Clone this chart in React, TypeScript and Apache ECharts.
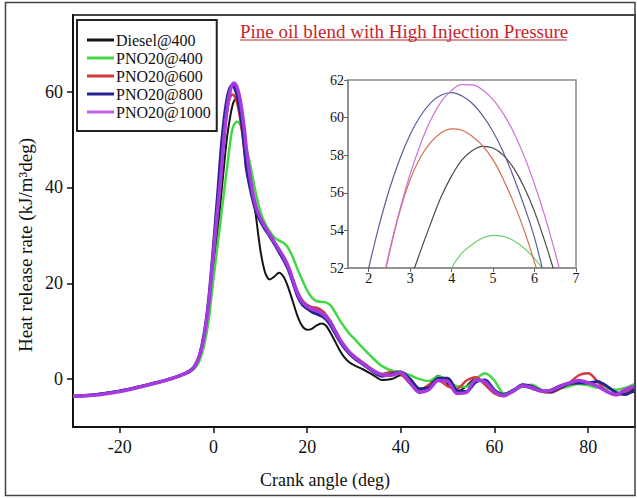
import React, { useEffect, useRef } from "react";
import * as echarts from "echarts";

const CRANK_ANGLE = [
  -30, -25, -20, -15, -10, -7, -5, -4, -3, -2, -1,
  0, 0.5, 1,
  1.5, 1.75, 2, 2.25, 2.5, 2.75, 3, 3.25, 3.5, 3.75, 4, 4.25, 4.5, 4.75, 5, 5.25, 5.5, 5.75, 6, 6.25, 6.5, 6.75, 7,
  8, 9, 10, 11, 12, 13, 14, 15, 16, 17, 18, 19, 20, 21, 22, 23, 24, 25, 26, 27, 28, 29, 30,
  32, 34, 36, 38, 40, 42, 44, 46, 48, 50, 52, 54, 56, 58, 60, 62, 64, 66, 68, 70, 72, 74, 76, 78, 80, 82, 84, 86, 88, 90,
];

const DIESEL_400 = [
  -3.6, -3.2, -2.5, -1.4, -0.2, 0.8, 1.6, 2.4, 4.3, 8, 14,
  23, 27.5, 32,
  37, 39.5, 42, 44.5, 47, 49.3, 51.3, 52.9, 54.4, 55.8, 56.9, 57.75, 58.25, 58.47, 58.38, 57.99, 57.3, 56.3, 55.0, 53.4, 51.6, 49.5, 47.3,
  41.5, 34.5, 27, 22.3, 20.8, 21.4, 22.2, 21.3, 19, 16, 13, 11, 10.3, 10.5, 11.2, 11.6, 11.2, 9.6, 7.8, 5.9, 4.5, 3.5, 2.9,
  2.0, 0.9, -0.2, 0.0, 0.8, -0.5, -2.2, -1.2, 0.7, -1.0,
  -2.6, -1.5, 0.2, -1.0, -2.8, -3.2, -2.2, -1.5, -2.0, -2.6,
  -2.2, -1.3, -0.8, -0.6, -1.0, -0.6, -1.5, -2.8, -3.0, -2.6,
];

const PNO20_400 = [
  -3.6, -3.2, -2.5, -1.4, -0.2, 0.7, 1.5, 2.2, 3.8, 7, 12.5,
  21, 25, 29,
  33, 35, 37, 39, 41, 43, 45, 47, 49, 50.7, 52, 52.8, 53.25, 53.6, 53.74, 53.68, 53.45, 53.05, 52.5, 51.8, 50.9, 49.8, 48.5,
  44, 39, 35, 32.5, 30.8, 29.6, 28.9, 28.4, 27.3, 25.3, 22.8, 20.6, 18.5, 17, 16.3, 16.1, 16, 15.4, 13.9, 12.2, 10.8, 9.5, 8.5,
  6.4, 4.4, 2.7, 1.8, 1.5, 0.8, 0.0, -0.4, 0.6, -0.3,
  -1.5, -1.6, 0.0, 1.2, -0.3, -3.0, -2.6, -1.5, -1.2, -2.2,
  -2.8, -2.0, -1.5, -1.0, -1.3, -1.8, -2.0, -2.2, -1.8, -1.0,
];

const PNO20_600 = [
  -3.6, -3.2, -2.5, -1.4, -0.2, 0.8, 1.7, 2.6, 4.8, 9, 16,
  26.5, 31.5, 36.5,
  41.5, 44.5, 47.5, 50.2, 52.8, 55.0, 56.7, 57.9, 58.7, 59.2, 59.4, 59.33, 59.0, 58.5, 57.75, 56.7, 55.45, 54.0, 52.3, 50.5, 48.5, 46.5, 44.5,
  39.5, 35.8, 33.3, 31.6, 30, 28.5, 27, 25.5, 23.5, 20.8, 18.2, 16.4, 15.5, 15, 14.9, 14.4, 13.5, 12, 10.2, 8.4, 7, 5.8, 4.9,
  3.4, 2.0, 1.1, 1.5, 1.0, -1.0, -2.4, -1.2, -0.3, -1.5,
  -2.0, -0.3, 0.4, -1.2, -3.0, -3.6, -2.5, -1.2, -1.5, -2.6,
  -2.8, -2.0, -0.8, 0.8, 1.2, -0.5, -2.6, -3.4, -2.5, -2.2,
];

const PNO20_800 = [
  -3.6, -3.2, -2.5, -1.4, -0.2, 0.8, 1.8, 2.8, 5, 9.5, 17,
  28, 34, 40,
  46.6, 49.5, 52.0, 54.25, 56.2, 57.8, 59.1, 60.1, 60.8, 61.2, 61.33, 61.15, 60.75, 60.1, 59.25, 58.15, 56.8, 55.3, 53.6, 51.4, 49.1, 46.6, 44,
  39, 35.2, 33, 31.3, 29.8, 28.2, 26.5, 24.8, 22.8, 20, 17.2, 15.5, 14.7, 14, 13.6, 13.2, 12.5, 11.2, 9.5, 7.8, 6.4, 5.3, 4.4,
  3.0, 1.6, 0.6, 1.0, 1.5, 0.0, -2.0, -1.8, 0.2, 0.2,
  -2.4, -2.6, -0.6, -0.2, -2.3, -3.2, -2.4, -1.2, -1.6, -2.4,
  -2.6, -1.8, -1.0, -0.8, -0.8, -0.5, -1.5, -2.8, -3.2, -2.0,
];

const PNO20_1000 = [
  -3.6, -3.3, -2.6, -1.5, -0.2, 0.8, 1.7, 2.7, 4.8, 9, 16,
  26.5, 31.5, 36.5,
  41.5, 44.4, 47.4, 50.3, 52.9, 55.1, 57.0, 58.6, 59.9, 60.85, 61.45, 61.75, 61.74, 61.47, 60.96, 60.2, 59.2, 57.95, 56.45, 54.75, 52.8, 50.6, 48.1,
  41, 36.2, 33.6, 31.8, 30.2, 28.6, 27, 25.4, 23.4, 20.5, 17.8, 16, 15.2, 14.6, 14.3, 13.8, 13, 11.8, 10, 8.2, 6.8, 5.6, 4.7,
  3.2, 1.8, 0.9, 0.8, 1.4, -0.8, -2.8, -2.2, -0.3, -0.5,
  -3.0, -2.8, -0.2, -0.6, -2.6, -3.4, -2.5, -1.4, -1.8, -2.5,
  -2.4, -1.5, -0.8, -0.3, -0.8, -1.5, -2.6, -3.2, -2.2, -1.5,
];

const SERIES_NAMES = ["Diesel@400", "PNO20@400", "PNO20@600", "PNO20@800", "PNO20@1000"];
const SERIES_VALUES = [DIESEL_400, PNO20_400, PNO20_600, PNO20_800, PNO20_1000];
const MAIN_COLORS = ["#151515", "#45d645", "#d23a3a", "#24248c", "#a43ae0"];
const MAIN_WIDTHS = [2, 2.5, 2.5, 3, 3.5];
const LEGEND_COLORS = ["#151515", "#45d645", "#d23a3a", "#24248c", "#c45ee0"];
const INSET_COLORS = ["#4a4a4a", "#6fd06f", "#d0704e", "#5c5c9e", "#d070d6"];

const X_TICKS = [-20, 0, 20, 40, 60, 80];
const Y_TICKS = [0, 20, 40, 60];
const INSET_X_TICKS = [2, 3, 4, 5, 6, 7];

const TITLE = "Pine oil blend with High Injection Pressure";
const X_TITLE = "Crank angle (deg)";
const Y_TITLE = "Heat release rate (kJ/m³deg)";

const FONT = "Liberation Serif";

export default function App() {
  const ref = useRef<HTMLDivElement>(null);

  useEffect(() => {
    if (!ref.current) return;
    const chart = echarts.init(ref.current, null, { renderer: "svg" });

    const pairs = (vals: number[]) => CRANK_ANGLE.map((x, i) => [x, vals[i]]);

    const mainSeries = SERIES_NAMES.map((name, i) => ({
      name,
      type: "line",
      xAxisIndex: 0,
      yAxisIndex: 0,
      data: pairs(SERIES_VALUES[i]),
      symbol: "none",
      smooth: 0.3,
      lineStyle: { color: MAIN_COLORS[i], width: MAIN_WIDTHS[i] },
      itemStyle: { color: LEGEND_COLORS[i] },
      z: 2 + i,
    }));

    const insetSeries = SERIES_NAMES.map((name, i) => ({
      name: "inset " + name,
      type: "line",
      xAxisIndex: 1,
      yAxisIndex: 1,
      data: pairs(SERIES_VALUES[i]),
      symbol: "none",
      smooth: 0.4,
      clip: true,
      lineStyle: { color: INSET_COLORS[i], width: 1.2 },
      z: 10 + i,
    }));

    const axisText = { color: "#111", fontFamily: FONT };

    chart.setOption({
      animation: false,
      backgroundColor: "#ffffff",
      textStyle: { fontFamily: FONT },
      grid: [
        { left: 73, top: 15, width: 562, height: 412, show: true, borderColor: "#444", borderWidth: 2, backgroundColor: "transparent" },
        { left: 348, top: 80, width: 228, height: 188, show: true, borderColor: "#8a8a8a", borderWidth: 1.5, backgroundColor: "#fff", z: 8 },
      ],
      xAxis: [
        {
          type: "value", gridIndex: 0, min: -30, max: 90,
          splitLine: { show: false },
          axisLine: { onZero: false, lineStyle: { color: "#111", width: 2 } },
          axisTick: { customValues: X_TICKS, length: 6, lineStyle: { color: "#111", width: 1.5 } },
          axisLabel: { customValues: X_TICKS, fontSize: 18, margin: 11, ...axisText },
        },
        {
          type: "value", gridIndex: 1, min: 1.5, max: 7,
          splitLine: { show: false },
          axisLine: { onZero: false, lineStyle: { color: "#8a8a8a", width: 1.5 } },
          axisTick: { customValues: INSET_X_TICKS, length: 4, lineStyle: { color: "#666" } },
          axisLabel: { customValues: INSET_X_TICKS, fontSize: 14, margin: 3, ...axisText },
          z: 9,
        },
      ],
      yAxis: [
        {
          type: "value", gridIndex: 0, min: -10, max: 76,
          splitLine: { show: false },
          axisLine: { onZero: false, lineStyle: { color: "#111", width: 2 } },
          axisTick: { customValues: Y_TICKS, length: 6, lineStyle: { color: "#111", width: 1.5 } },
          axisLabel: { customValues: Y_TICKS, fontSize: 18, margin: 10, ...axisText },
        },
        {
          type: "value", gridIndex: 1, min: 52, max: 62, interval: 2,
          splitLine: { show: false },
          axisLine: { onZero: false, lineStyle: { color: "#8a8a8a", width: 1.5 } },
          axisTick: { length: 4, lineStyle: { color: "#666" } },
          axisLabel: { fontSize: 14, margin: 4, ...axisText },
          z: 9,
        },
      ],
      legend: {
        data: SERIES_NAMES,
        orient: "vertical",
        left: 77,
        top: 20,
        icon: "rect",
        backgroundColor: "#fff",
        borderColor: "#222",
        borderWidth: 2,
        borderRadius: 0,
        padding: [12, 6, 11, 10],
        itemGap: 2,
        itemWidth: 27,
        itemHeight: 3,
        textStyle: { fontSize: 16, color: "#111", fontFamily: FONT, padding: [0, 0, 0, -3] },
      },
      graphic: [
        { type: "rect", shape: { x: 5.5, y: 2.5, width: 629.5, height: 493 }, style: { fill: "none", stroke: "#444", lineWidth: 1.5 }, silent: true, z: 100 },
        { type: "text", x: 240, y: 31, style: { text: TITLE, font: `19px ${FONT}`, fill: "#c4262c", textVerticalAlign: "middle", textAlign: "left" }, z: 100 },
        { type: "line", shape: { x1: 240, y1: 40, x2: 567, y2: 40 }, style: { stroke: "#c4262c", lineWidth: 1.2 }, z: 100 },
        { type: "text", x: 25, y: 245, rotation: Math.PI / 2, style: { text: Y_TITLE, font: `19px ${FONT}`, fill: "#111", textAlign: "center", textVerticalAlign: "middle" }, z: 100 },
        { type: "text", x: 325, y: 480, style: { text: X_TITLE, font: `18px ${FONT}`, fill: "#111", textAlign: "center", textVerticalAlign: "middle" }, z: 100 },
      ],
      series: [...mainSeries, ...insetSeries],
    });

    return () => chart.dispose();
  }, []);

  return (
    <div
      ref={ref}
      style={{ position: "fixed", left: 0, top: 0, width: 637, height: 498, background: "#fff" }}
    />
  );
}
